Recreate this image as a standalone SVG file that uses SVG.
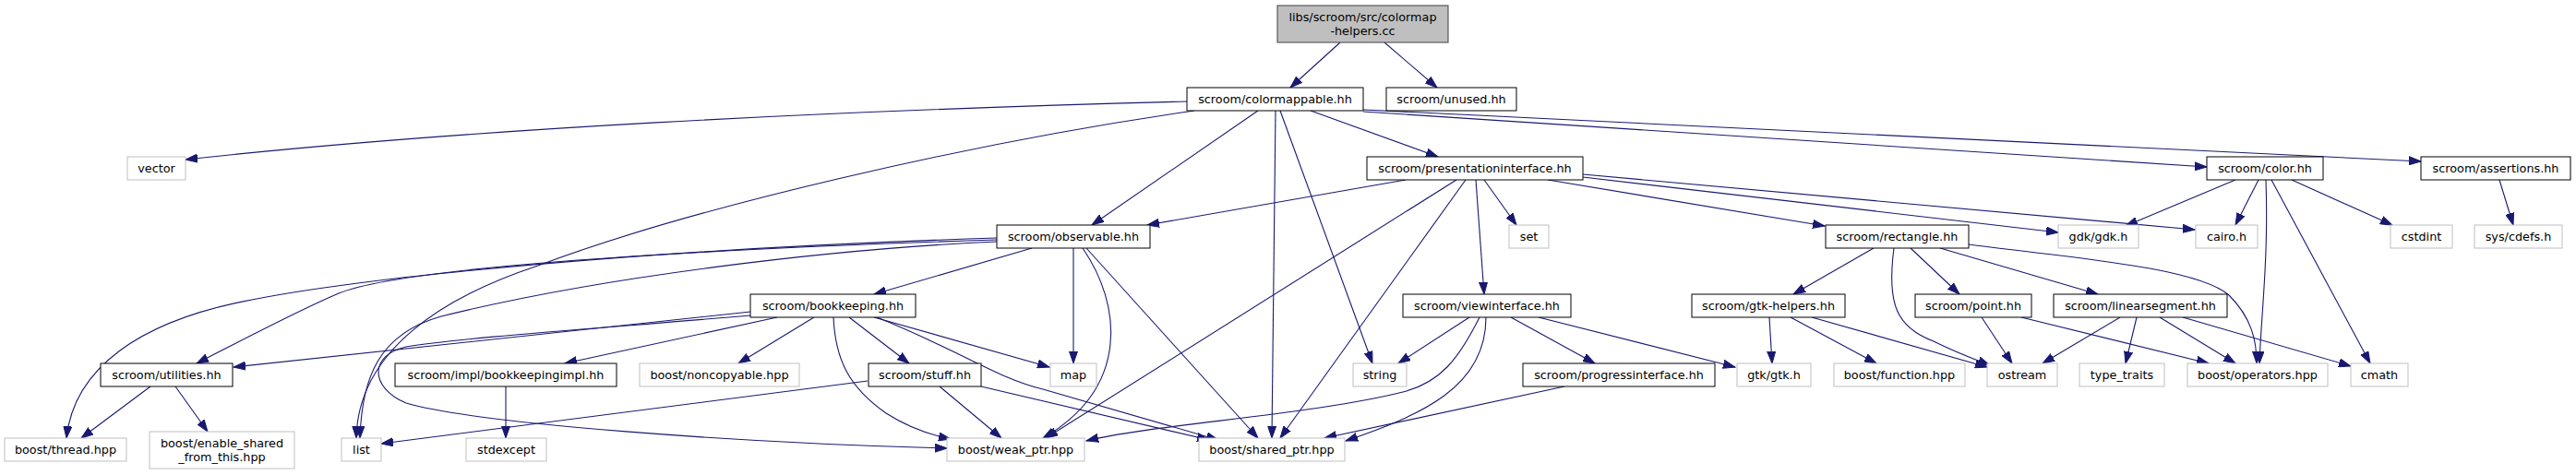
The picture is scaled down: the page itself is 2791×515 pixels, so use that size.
<svg xmlns="http://www.w3.org/2000/svg" width="2791" height="515" viewBox="0 0 2791 515">
<style>
.n rect{fill:#ffffff;stroke:#000000;stroke-width:1}
.n.x rect{stroke:#bfbfbf}
.n.r rect{fill:#bfbfbf;stroke:#404040}
text{font-family:"DejaVu Sans",sans-serif;font-size:12.8px;fill:#000000;text-anchor:middle}
#edges path{fill:none;stroke:#191970;stroke-width:1.1;marker-end:url(#a)}
</style>
<defs>
<marker id="a" markerWidth="14" markerHeight="10" refX="13" refY="5" orient="auto" markerUnits="userSpaceOnUse">
<path d="M0,0.5 L13,5 L0,9.5 z" fill="#191970" stroke="#191970" stroke-width="1"/>
</marker>
</defs>
<rect width="2791" height="515" fill="#ffffff"/>
<g id="edges">
<path d="M1452,46 L1398,95"/>
<path d="M1500,46 L1557,95"/>
<path d="M1286,110 C900,120 500,140 201,173"/>
<path d="M1363,120 L1183,244"/>
<path d="M1420,120 L1558,170"/>
<path d="M1387,120 L1487,394"/>
<path d="M1382,120 L1378,475"/>
<path d="M1477,121 C1900,150 2250,174 2391,181"/>
<path d="M1477,119 C1900,142 2300,158 2623,175"/>
<path d="M1294,120 C1050,155 750,225 583,288 C480,322 388,380 386,475"/>
<path d="M1080,262 C900,270 650,300 478,343 C410,362 392,410 390,475"/>
<path d="M1080,258 C700,270 400,300 273,325 C150,348 80,400 72,475"/>
<path d="M1080,260 C700,272 430,292 367,318 C320,338 260,370 213,394"/>
<path d="M1118,269 L947,319"/>
<path d="M1163,269 L1163,394"/>
<path d="M1173,269 C1215,330 1225,420 1130,475"/>
<path d="M1177,269 L1363,475"/>
<path d="M1523,195 L1243,244"/>
<path d="M1578,195 L1133,475"/>
<path d="M1588,195 L1387,475"/>
<path d="M1599,195 L1608,319"/>
<path d="M1608,195 L1643,244"/>
<path d="M1677,195 L1977,245"/>
<path d="M1715,192 L2230,252"/>
<path d="M1715,189 L2378,249"/>
<path d="M2422,195 L2303,245"/>
<path d="M2447,195 L2422,244"/>
<path d="M2455,195 C2458,280 2450,340 2448,394"/>
<path d="M2461,195 L2568,394"/>
<path d="M2483,195 L2592,244"/>
<path d="M2708,195 L2723,244"/>
<path d="M2030,269 L1943,319"/>
<path d="M2052,269 C2044,330 2055,355 2095,370 C2115,380 2135,388 2156,396"/>
<path d="M2070,269 L2123,319"/>
<path d="M2102,269 L2273,319"/>
<path d="M2133,265 C2250,280 2380,290 2415,320 C2440,345 2445,370 2445,394"/>
<path d="M2147,344 L2180,394"/>
<path d="M2190,344 L2393,394"/>
<path d="M2297,344 L2213,394"/>
<path d="M2315,344 L2303,394"/>
<path d="M2340,344 L2422,394"/>
<path d="M2365,344 L2547,397"/>
<path d="M1917,344 L1920,394"/>
<path d="M1940,344 L2033,394"/>
<path d="M1963,344 L2153,398"/>
<path d="M1592,344 L1515,394"/>
<path d="M1603,344 C1580,390 1560,415 1520,425 C1420,450 1250,460 1177,478"/>
<path d="M1610,344 C1610,420 1540,450 1458,478"/>
<path d="M1637,344 L1728,394"/>
<path d="M1667,344 L1880,398"/>
<path d="M1695,419 L1435,475"/>
<path d="M813,338 L253,398"/>
<path d="M813,342 C650,356 500,366 440,376 C400,385 400,420 440,437 C520,460 800,480 1026,486"/>
<path d="M842,344 L612,394"/>
<path d="M882,344 L800,394"/>
<path d="M903,344 C905,390 920,420 960,448 C985,464 1010,472 1030,476"/>
<path d="M920,344 L985,394"/>
<path d="M947,344 L1137,398"/>
<path d="M950,344 C1040,380 1080,410 1130,422 L1320,477"/>
<path d="M940,413 L413,481"/>
<path d="M1018,419 L1085,475"/>
<path d="M1063,419 L1310,477"/>
<path d="M548,419 L548,475"/>
<path d="M163,419 L88,475"/>
<path d="M190,419 L225,468"/>
</g>
<g id="root" class="n r"><rect x="1384" y="6" width="185" height="40"/><text x="1476.5" y="22.5">libs/scroom/src/colormap</text><text x="1476.5" y="37.5">-helpers.cc</text></g>
<g id="colormappable" class="n"><rect x="1286" y="95" width="191" height="25"/><text x="1381.5" y="111.5">scroom/colormappable.hh</text></g>
<g id="unused" class="n"><rect x="1502" y="95" width="141" height="25"/><text x="1572.5" y="111.5">scroom/unused.hh</text></g>
<g id="vector" class="n x"><rect x="138" y="170" width="63" height="25"/><text x="169.5" y="186.5">vector</text></g>
<g id="presentationinterface" class="n"><rect x="1481" y="170" width="234" height="25"/><text x="1598" y="186.5">scroom/presentationinterface.hh</text></g>
<g id="color" class="n"><rect x="2391" y="170" width="126" height="25"/><text x="2454" y="186.5">scroom/color.hh</text></g>
<g id="assertions" class="n"><rect x="2623" y="170" width="162" height="25"/><text x="2704" y="186.5">scroom/assertions.hh</text></g>
<g id="observable" class="n"><rect x="1080" y="244" width="166" height="25"/><text x="1163" y="260.5">scroom/observable.hh</text></g>
<g id="set" class="n x"><rect x="1635" y="244" width="43" height="25"/><text x="1656.5" y="260.5">set</text></g>
<g id="rectangle" class="n"><rect x="1978" y="244" width="155" height="25"/><text x="2055.5" y="260.5">scroom/rectangle.hh</text></g>
<g id="gdk" class="n x"><rect x="2230" y="244" width="87" height="25"/><text x="2273.5" y="260.5">gdk/gdk.h</text></g>
<g id="cairo" class="n x"><rect x="2379" y="244" width="67" height="25"/><text x="2412.5" y="260.5">cairo.h</text></g>
<g id="cstdint" class="n x"><rect x="2590" y="244" width="67" height="25"/><text x="2623.5" y="260.5">cstdint</text></g>
<g id="cdefs" class="n x"><rect x="2681" y="244" width="95" height="25"/><text x="2728.5" y="260.5">sys/cdefs.h</text></g>
<g id="bookkeeping" class="n"><rect x="813" y="319" width="179" height="25"/><text x="902.5" y="335.5">scroom/bookkeeping.hh</text></g>
<g id="viewinterface" class="n"><rect x="1520" y="319" width="182" height="25"/><text x="1611" y="335.5">scroom/viewinterface.hh</text></g>
<g id="gtkhelpers" class="n"><rect x="1833" y="319" width="166" height="25"/><text x="1916" y="335.5">scroom/gtk-helpers.hh</text></g>
<g id="point" class="n"><rect x="2075" y="319" width="126" height="25"/><text x="2138" y="335.5">scroom/point.hh</text></g>
<g id="linearsegment" class="n"><rect x="2225" y="319" width="188" height="25"/><text x="2319" y="335.5">scroom/linearsegment.hh</text></g>
<g id="utilities" class="n"><rect x="109" y="394" width="143" height="25"/><text x="180.5" y="410.5">scroom/utilities.hh</text></g>
<g id="bookkeepingimpl" class="n"><rect x="428" y="394" width="240" height="25"/><text x="548" y="410.5">scroom/impl/bookkeepingimpl.hh</text></g>
<g id="noncopyable" class="n x"><rect x="693" y="394" width="173" height="25"/><text x="779.5" y="410.5">boost/noncopyable.hpp</text></g>
<g id="stuff" class="n"><rect x="941" y="394" width="122" height="25"/><text x="1002" y="410.5">scroom/stuff.hh</text></g>
<g id="map" class="n x"><rect x="1138" y="394" width="50" height="25"/><text x="1163" y="410.5">map</text></g>
<g id="string" class="n x"><rect x="1466" y="394" width="58" height="25"/><text x="1495" y="410.5">string</text></g>
<g id="progressinterface" class="n"><rect x="1650" y="394" width="208" height="25"/><text x="1754" y="410.5">scroom/progressinterface.hh</text></g>
<g id="gtk" class="n x"><rect x="1882" y="394" width="80" height="25"/><text x="1922" y="410.5">gtk/gtk.h</text></g>
<g id="function" class="n x"><rect x="1987" y="394" width="142" height="25"/><text x="2058" y="410.5">boost/function.hpp</text></g>
<g id="ostream" class="n x"><rect x="2153" y="394" width="76" height="25"/><text x="2191" y="410.5">ostream</text></g>
<g id="type_traits" class="n x"><rect x="2253" y="394" width="92" height="25"/><text x="2299" y="410.5">type_traits</text></g>
<g id="operators" class="n x"><rect x="2370" y="394" width="152" height="25"/><text x="2446" y="410.5">boost/operators.hpp</text></g>
<g id="cmath" class="n x"><rect x="2547" y="394" width="62" height="25"/><text x="2578" y="410.5">cmath</text></g>
<g id="thread" class="n x"><rect x="5" y="475" width="132" height="25"/><text x="71" y="491.5">boost/thread.hpp</text></g>
<g id="enable_shared" class="n x"><rect x="162" y="468" width="157" height="40"/><text x="240.5" y="485">boost/enable_shared</text><text x="240.5" y="500">_from_this.hpp</text></g>
<g id="list" class="n x"><rect x="370" y="475" width="43" height="25"/><text x="391.5" y="491.5">list</text></g>
<g id="stdexcept" class="n x"><rect x="505" y="475" width="87" height="25"/><text x="548.5" y="491.5">stdexcept</text></g>
<g id="weak_ptr" class="n x"><rect x="1026" y="475" width="149" height="25"/><text x="1100.5" y="491.5">boost/weak_ptr.hpp</text></g>
<g id="shared_ptr" class="n x"><rect x="1299" y="475" width="158" height="25"/><text x="1378" y="491.5">boost/shared_ptr.hpp</text></g>
</svg>
